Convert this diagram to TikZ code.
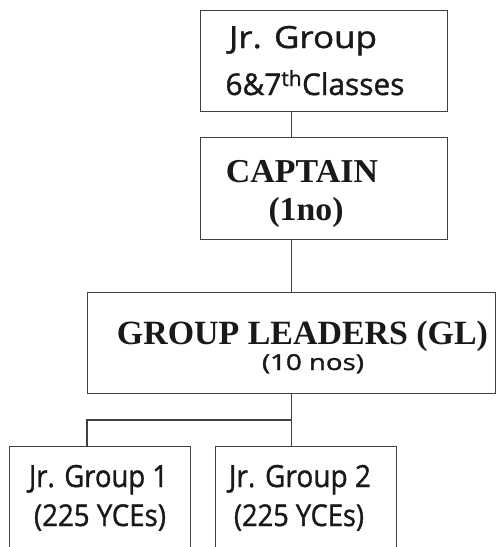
\documentclass[tikz,border=0pt]{standalone}
\usepackage{fontspec}
\usepackage{graphicx}
\setmainfont{Liberation Serif}
\newfontfamily\sansf[FakeBold=1.2,AutoFakeBold=1.2]{Open Sans}
\newcommand\fitw[2]{\resizebox{#1pt}{\height}{#2}}
\begin{document}
\begin{tikzpicture}[x=1pt,y=-1pt,
  box/.style={draw=black!75,line width=1.3pt,inner sep=0pt,anchor=north west},
  link/.style={draw=black!75,line width=1.3pt},
  txt/.style={inner sep=0pt,anchor=base,text=black!90}]
\useasboundingbox (0,0) rectangle (496,547);
\clip (0,0) rectangle (496,547);
% boxes
\node[box,minimum width=247pt,minimum height=101pt] (top) at (200,10) {};
\node[box,minimum width=247pt,minimum height=102pt] (cap) at (200,137) {};
\node[box,minimum width=408pt,minimum height=101pt] (gl) at (87,292) {};
\node[box,minimum width=181pt,minimum height=130pt] (jg1) at (9,446) {};
\node[box,minimum width=181pt,minimum height=130pt] (jg2) at (215,446) {};
% texts
\node[txt] (t1) at (303,48) {\fontsize{30.5}{30.5}\sansf\fitw{148}{Jr. Group}};
\node[txt] (t2) at (315,95) {\fontsize{30}{30}\sansf\fitw{179}{6\&7\textsuperscript{th}Classes}};
\node[txt] (c1) at (302,182) {\fontsize{33.4}{33.4}\bfseries\fitw{152}{CAPTAIN}};
\node[txt] (c2) at (306,220) {\fontsize{33.4}{33.4}\bfseries\fitw{75}{(1no)}};
\node[txt] (g1) at (302.5,344) {\fontsize{34}{34}\bfseries\fitw{371}{GROUP LEADERS (GL)}};
\node[txt] (g2) at (313,370) {\fontsize{22}{22}\sansf\fitw{102}{(10 nos)}};
\node[txt] (a1) at (98.5,487) {\fontsize{30.5}{30.5}\sansf\fitw{139}{Jr. Group 1}};
\node[txt] (a2) at (100,526) {\fontsize{30}{30}\sansf\fitw{132}{(225 YCEs)}};
\node[txt] (b1) at (300,487) {\fontsize{30.5}{30.5}\sansf\fitw{142}{Jr. Group 2}};
\node[txt] (b2) at (299,526) {\fontsize{30}{30}\sansf\fitw{130}{(225 YCEs)}};
% connectors
\coordinate (split) at (291,420);
\draw[link] (gl.north |- top.south) -- (gl.north |- cap.north);
\draw[link] (gl.north |- cap.south) -- (gl.north);
\draw[link] (gl.south) -- (gl.south |- jg2.north);
\draw[link] (split) -| (gl.south west |- jg1.north);
\end{tikzpicture}
\end{document}
